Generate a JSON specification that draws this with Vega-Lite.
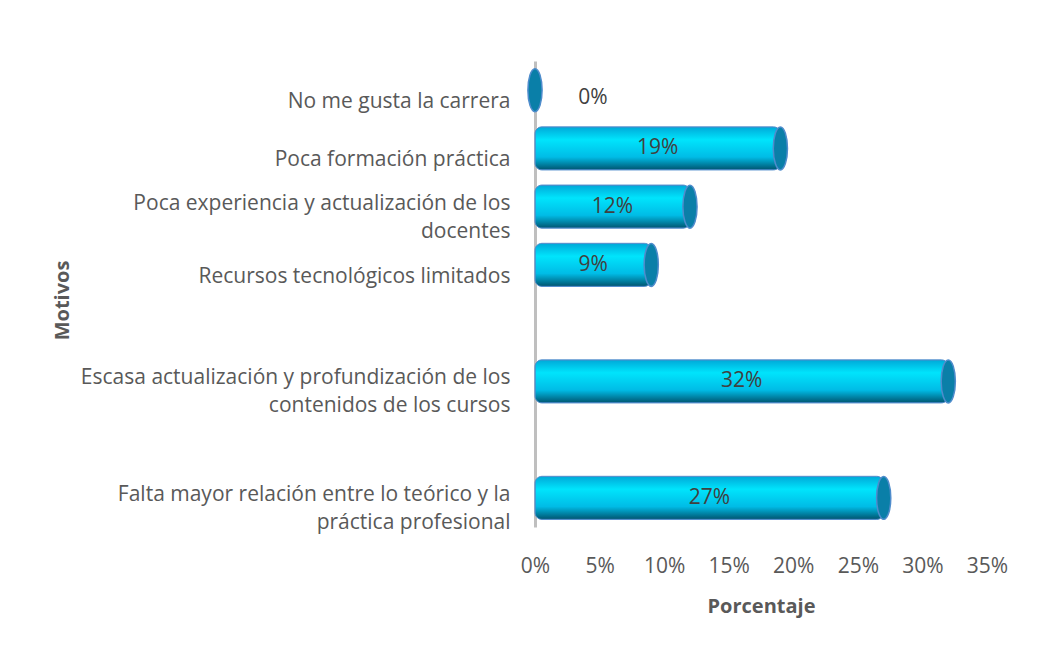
{
  "$schema": "https://vega.github.io/schema/vega-lite/v6.json",
  "width": 452,
  "height": 466,
  "autosize": {"type": "none"},
  "padding": {"left": 535, "top": 61, "right": 66, "bottom": 121},
  "background": "white",
  "config": {
    "view": {"stroke": null},
    "font": "Open Sans",
    "axis": {"labelFont": "Open Sans", "titleFont": "Open Sans", "labelColor": "#595959", "titleColor": "#595959"}
  },
  "data": {
    "values": [
      {"motivo": "No me gusta la carrera", "valor": 0},
      {"motivo": "Poca formación práctica", "valor": 19},
      {"motivo": "Poca experiencia y actualización de los docentes", "valor": 12},
      {"motivo": "Recursos tecnológicos limitados", "valor": 9},
      {"motivo": "Escasa actualización y profundización de los contenidos de los cursos", "valor": 32},
      {"motivo": "Falta mayor relación entre lo teórico y la práctica profesional", "valor": 27}
    ]
  },
  "transform": [
    {"calculate": "datum.valor / 2", "as": "medio"},
    {"calculate": "datum.valor + '%'", "as": "etiqueta"}
  ],
  "encoding": {
    "y": {
      "field": "motivo",
      "type": "nominal",
      "sort": null,
      "scale": {
        "domain": [
          "No me gusta la carrera",
          "Poca formación práctica",
          "Poca experiencia y actualización de los docentes",
          "Recursos tecnológicos limitados",
          " ",
          "Escasa actualización y profundización de los contenidos de los cursos",
          "  ",
          "Falta mayor relación entre lo teórico y la práctica profesional"
        ],
        "paddingInner": 0.26,
        "paddingOuter": 0.13
      },
      "axis": {
        "title": "Motivos",
        "titleFontSize": 20,
        "titleFontWeight": "bold",
        "titleX": -473,
        "titleY": 239,
        "titleAngle": -90,
        "titleAlign": "center",
        "titleBaseline": "middle",
        "labelFontSize": 21,
        "labelPadding": 25,
        "labelLineHeight": 28,
        "labelOffset": {"condition": {"test": "length(datum.value) > 40", "value": -3}, "value": 12},
        "ticks": false,
        "domain": true,
        "domainColor": "#bfbfbf",
        "domainWidth": 3,
        "labelLimit": 700,
        "labelExpr": "datum.label == 'Poca experiencia y actualización de los docentes' ? ['Poca experiencia y actualización de los', 'docentes'] : datum.label == 'Escasa actualización y profundización de los contenidos de los cursos' ? ['Escasa actualización y profundización de los', 'contenidos de los cursos'] : datum.label == 'Falta mayor relación entre lo teórico y la práctica profesional' ? ['Falta mayor relación entre lo teórico y la', 'práctica profesional'] : datum.label"
      }
    }
  },
  "layer": [
    {
      "mark": {
        "type": "bar",
        "cornerRadius": 7,
        "stroke": "#4f8ccc",
        "strokeWidth": 1,
        "color": {
          "gradient": "linear",
          "x1": 0, "y1": 0, "x2": 0, "y2": 1,
          "stops": [
            {"offset": 0, "color": "#00a8d8"},
            {"offset": 0.3, "color": "#00e4fc"},
            {"offset": 0.7, "color": "#00bce6"},
            {"offset": 1, "color": "#00546f"}
          ]
        }
      },
      "encoding": {
        "x": {
          "field": "valor",
          "type": "quantitative",
          "scale": {"domain": [0, 35], "nice": false},
          "axis": {
            "title": "Porcentaje",
            "titleFontSize": 20,
            "titleFontWeight": "bold",
            "titlePadding": 20,
            "labelFontSize": 21,
            "labelPadding": 28,
            "labelFlush": false,
            "values": [0, 5, 10, 15, 20, 25, 30, 35],
            "labelExpr": "datum.value + '%'",
            "ticks": false,
            "domain": false,
            "grid": false
          }
        }
      }
    },
    {
      "mark": {
        "type": "point",
        "filled": true,
        "shape": "M0,-1 A0.33,1 0 1,1 0,1 A0.33,1 0 1,1 0,-1 Z",
        "size": 1849,
        "fill": "#0a7fa8",
        "stroke": "#4f8ccc",
        "strokeWidth": 1.5,
        "opacity": 1
      },
      "encoding": {
        "x": {"field": "valor", "type": "quantitative"}
      }
    },
    {
      "transform": [{"filter": "datum.valor > 0"}],
      "mark": {"type": "text", "fontSize": 21, "color": "#404040", "align": "center", "baseline": "middle"},
      "encoding": {
        "x": {"field": "medio", "type": "quantitative"},
        "text": {"field": "etiqueta", "type": "nominal"}
      }
    },
    {
      "transform": [{"filter": "datum.valor == 0"}],
      "mark": {"type": "text", "fontSize": 21, "color": "#404040", "align": "center", "baseline": "middle", "dx": 58, "dy": 8},
      "encoding": {
        "x": {"field": "valor", "type": "quantitative"},
        "text": {"field": "etiqueta", "type": "nominal"}
      }
    }
  ]
}
